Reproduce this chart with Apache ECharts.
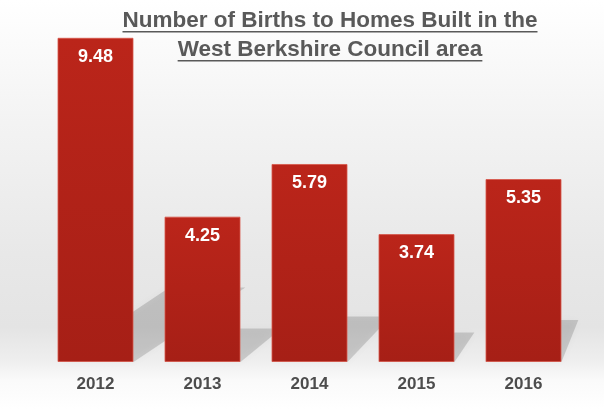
<!DOCTYPE html>
<html>
<head>
<meta charset="utf-8">
<script src="https://cdn.jsdelivr.net/npm/echarts@6/dist/echarts.min.js"></script>
<style>
  html, body { margin: 0; padding: 0; }
  #chart {
    width: 604px;
    height: 409px;
    background: linear-gradient(to bottom, #ffffff 0%, #f3f3f3 30%, #e8e8e8 62%, #e4e4e4 80%, #eeeeee 88%, #fafafa 93%, #ffffff 100%);
  }
</style>
</head>
<body>
<div id="chart"></div>
<script>
const titleLines = ['Number of Births to Homes Built in the', 'West Berkshire Council area'];
const years = ['2012', '2013', '2014', '2015', '2016'];
const birthsPerHome = [9.48, 4.25, 5.79, 3.74, 5.35];

const BAR_WIDTH = 76;
const TITLE_FONT = 'bold 22.5px "Liberation Sans", Arial, sans-serif';
const TITLE_COLOR = '#595959';
const TITLE_X = 330;

// width of each title line, for the underline
const measureCtx = document.createElement('canvas').getContext('2d');
measureCtx.font = TITLE_FONT;
const lineWidths = titleLines.map(t => measureCtx.measureText(t).width);

function titleGraphic() {
  const capCenters = [20.5, 50];
  const underlines = [31.7, 60.7];
  const items = [];
  titleLines.forEach((text, i) => {
    items.push({
      type: 'text',
      x: TITLE_X,
      y: capCenters[i],
      style: {
        text,
        align: 'center',
        verticalAlign: 'middle',
        fontSize: 22.5,
        fontWeight: 'bold',
        fontFamily: '"Liberation Sans", Arial, sans-serif',
        fill: TITLE_COLOR
      }
    });
    items.push({
      type: 'line',
      shape: {
        x1: TITLE_X - lineWidths[i] / 2, y1: underlines[i],
        x2: TITLE_X + lineWidths[i] / 2, y2: underlines[i]
      },
      style: { stroke: TITLE_COLOR, lineWidth: 1.5 }
    });
  });
  return items;
}

// soft shadow each bar throws on the wall behind it
function renderShadow(params, api) {
  const idx = api.value(0);
  const base = api.coord([idx, 0]);
  const top = api.coord([idx, api.value(1)]);
  const half = BAR_WIDTH / 2;
  const rise = (base[1] - top[1]) * 0.23;
  const lean = rise * (1.5 - 1.1 * idx / (years.length - 1));
  return {
    type: 'polygon',
    shape: {
      points: [
        [base[0] - half, base[1]],
        [base[0] + half, base[1]],
        [base[0] + half + lean, base[1] - rise],
        [base[0] - half + lean, base[1] - rise]
      ]
    },
    style: {
      fill: 'rgba(0,0,0,0.15)',
      shadowBlur: 8,
      shadowColor: 'rgba(0,0,0,0.18)'
    }
  };
}

const chart = echarts.init(document.getElementById('chart'));
chart.setOption({
  backgroundColor: 'transparent',
  animation: false,
  graphic: titleGraphic(),
  grid: { left: 42, right: 27, top: 20, bottom: 47 },
  xAxis: {
    type: 'category',
    data: years,
    axisLine: { show: false },
    axisTick: { show: false },
    axisLabel: {
      margin: 14,
      fontSize: 17,
      fontWeight: 'bold',
      fontFamily: '"Liberation Sans", Arial, sans-serif',
      color: '#4d4d4d'
    }
  },
  yAxis: {
    type: 'value',
    min: 0,
    max: 10,
    show: false,
    splitLine: { show: false }
  },
  series: [
    {
      type: 'custom',
      z: 1,
      silent: true,
      renderItem: renderShadow,
      encode: { x: 0, y: 1 },
      data: birthsPerHome.map((v, i) => [i, v])
    },
    {
      type: 'bar',
      z: 2,
      barWidth: BAR_WIDTH,
      data: birthsPerHome,
      itemStyle: {
        color: new echarts.graphic.LinearGradient(0, 0, 0, 1, [
          { offset: 0, color: '#bb251a' },
          { offset: 1, color: '#a61f16' }
        ]),
        borderColor: 'rgba(215,85,72,0.8)',
        borderWidth: 1
      },
      label: {
        show: true,
        position: 'insideTop',
        distance: 10,
        fontSize: 18,
        fontWeight: 'bold',
        fontFamily: '"Liberation Sans", Arial, sans-serif',
        color: '#ffffff',
        formatter: p => p.value.toFixed(2)
      }
    }
  ]
});
</script>
</body>
</html>
